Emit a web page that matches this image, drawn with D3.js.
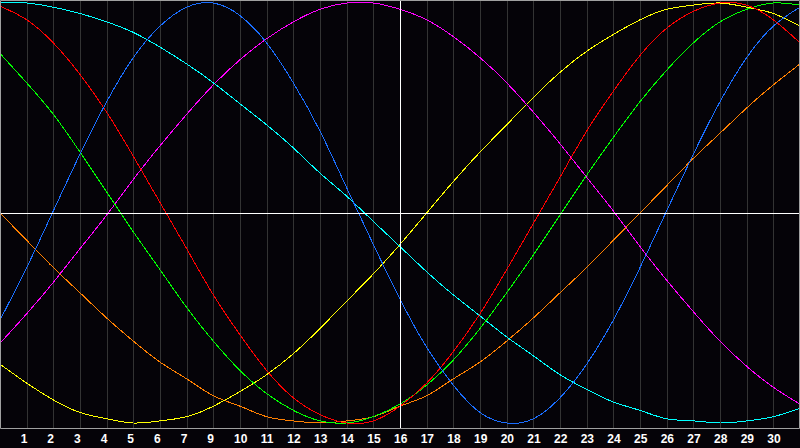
<!DOCTYPE html>
<html>
<head>
<meta charset="utf-8">
<script src="https://cdn.jsdelivr.net/npm/d3@7"></script>
<style>
  html, body { margin: 0; padding: 0; background: #000; }
  svg { display: block; }
</style>
</head>
<body>
<script>
// day index 0..30 along the x axis
const days = d3.range(0, 31);
// tick labels under grid lines 1..29
const dayLabels = ['1','2','3','4','5','6','7','9','10','11','12','13','14','15','16',
  '17','18','19','20','21','22','23','24','25','26','27','28','29','30'];

// curve values (-1 .. 1)
const blue = [-0.51,-0.26,0.01,0.28,0.53,0.74,0.89,0.98,1.00,0.94,0.81,0.62,0.39,0.12,-0.15,-0.41,
  -0.64,-0.82,-0.95,-1.00,-0.98,-0.88,-0.72,-0.51,-0.26,0.01,0.28,0.53,0.74,0.89,0.98];
const red = [0.985,0.92,0.81,0.66,0.48,0.27,0.05,-0.17,-0.39,-0.58,-0.75,-0.88,-0.96,-1.00,-0.99,-0.92,
  -0.81,-0.66,-0.48,-0.27,-0.05,0.17,0.39,0.58,0.75,0.88,0.96,1.00,0.99,0.92,0.81];
const green = [0.76,0.62,0.47,0.29,0.10,-0.09,-0.27,-0.45,-0.61,-0.75,-0.86,-0.94,-0.99,-1.00,-0.97,-0.91,
  -0.82,-0.70,-0.55,-0.38,-0.20,-0.01,0.18,0.36,0.53,0.68,0.81,0.91,0.97,1.00,0.99];
const cyan = [1.00,1.00,0.98,0.95,0.91,0.86,0.79,0.71,0.62,0.52,0.42,0.31,0.19,0.08,-0.04,-0.16,
  -0.28,-0.39,-0.49,-0.59,-0.68,-0.77,-0.84,-0.90,-0.94,-0.98,-0.99,-1.00,-0.99,-0.97,-0.93];
const magenta = [-0.62,-0.48,-0.33,-0.17,-0.01,0.16,0.32,0.47,0.61,0.73,0.83,0.91,0.97,1.00,1.00,0.97,
  0.92,0.84,0.74,0.62,0.48,0.33,0.17,0.01,-0.16,-0.32,-0.47,-0.61,-0.73,-0.83,-0.91];
const yellow = [-0.72,-0.81,-0.89,-0.95,-0.98,-1.00,-0.99,-0.97,-0.92,-0.85,-0.77,-0.67,-0.55,-0.42,-0.29,-0.15,
  0.00,0.15,0.29,0.42,0.55,0.67,0.77,0.85,0.92,0.97,0.99,1.00,0.98,0.95,0.89];
const orange = [0.00,-0.13,-0.26,-0.38,-0.50,-0.61,-0.71,-0.79,-0.87,-0.92,-0.97,-0.99,-1.00,-0.99,-0.97,-0.92,
  -0.87,-0.79,-0.71,-0.61,-0.50,-0.38,-0.26,-0.13,0.00,0.13,0.26,0.38,0.50,0.61,0.71];

const series = [
  {values: orange, color: '#ff8000'},
  {values: yellow, color: '#ffff00'},
  {values: magenta, color: '#ff00ff'},
  {values: cyan, color: '#00ffff'},
  {values: green, color: '#00ff00'},
  {values: red, color: '#ff0000'},
  {values: blue, color: '#1a6eff'}
];

const width = 800;
const height = 448;
const plotBottom = 428;

const x = d3.scaleLinear().domain([0, 30]).range([0, width]);
const y = d3.scaleLinear().domain([-1, 1]).range([423, 3]);

const svg = d3.select('body')
  .append('svg')
  .attr('width', width)
  .attr('height', height);

svg.append('rect')
  .attr('width', width)
  .attr('height', height)
  .attr('fill', '#050308');

// grid lines
const gridDays = d3.range(1, 30);
svg.append('g')
  .selectAll('line')
  .data(gridDays)
  .join('line')
  .attr('x1', d => Math.round(x(d)) + 0.5)
  .attr('x2', d => Math.round(x(d)) + 0.5)
  .attr('y1', 0)
  .attr('y2', plotBottom)
  .attr('stroke', '#333')
  .attr('stroke-width', 1);

// curves
const line = d3.line()
  .x((d, i) => x(days[i]))
  .y(d => y(d))
  .curve(d3.curveNatural);

svg.append('g')
  .selectAll('path')
  .data(series)
  .join('path')
  .attr('d', d => line(d.values))
  .attr('fill', 'none')
  .attr('stroke', d => d.color)
  .attr('stroke-width', 1)
  .style('shape-rendering', 'crispEdges');

// centre cross
svg.append('line')
  .attr('x1', 0).attr('x2', width)
  .attr('y1', Math.round(y(0)) + 0.5).attr('y2', Math.round(y(0)) + 0.5)
  .attr('stroke', '#fff');
svg.append('line')
  .attr('x1', Math.round(x(15)) + 0.5).attr('x2', Math.round(x(15)) + 0.5)
  .attr('y1', 0).attr('y2', plotBottom)
  .attr('stroke', '#fff');

// frame
svg.append('path')
  .attr('d', `M0.5,${plotBottom + 0.5}V0.5H${width - 0.5}V${plotBottom + 0.5}H0.5`)
  .attr('fill', 'none')
  .attr('stroke', '#a0a0a0')
  .attr('stroke-width', 1);

// day labels
svg.append('g')
  .selectAll('text')
  .data(dayLabels)
  .join('text')
  .attr('x', (d, i) => x(gridDays[i]) - 6)
  .attr('y', 443)
  .attr('fill', '#fff')
  .style('font-family', 'Liberation Sans, Arial, sans-serif')
  .style('font-size', '12px')
  .style('font-weight', 'bold')
  .text(d => d);
</script>
</body>
</html>
